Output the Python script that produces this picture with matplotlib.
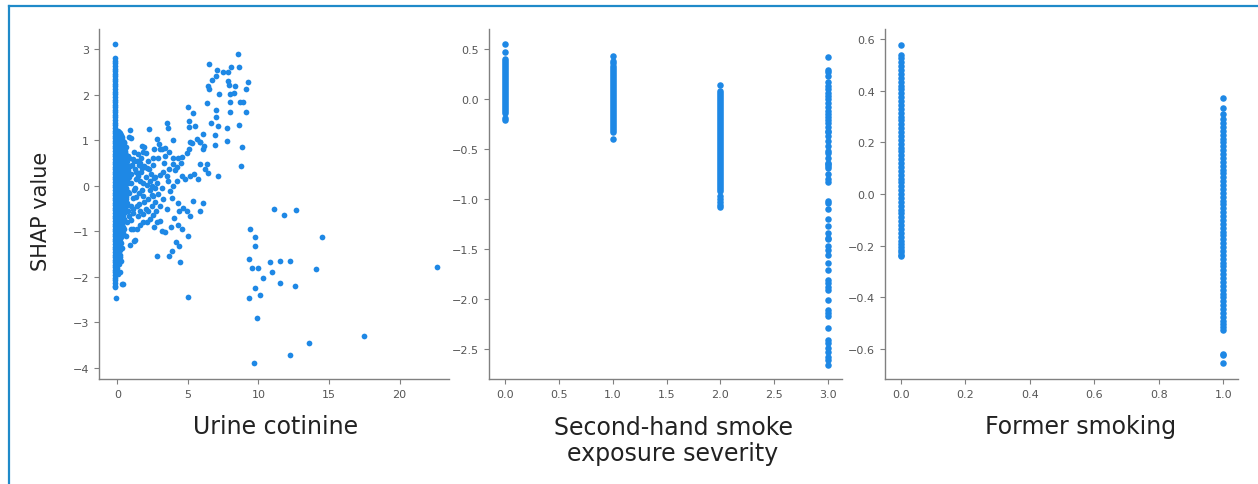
import matplotlib
matplotlib.use("Agg")
import matplotlib.pyplot as plt
from matplotlib.lines import Line2D

# ---------------- data ----------------
# Panel 1: Urine cotinine (column of near-zero values)
cot_col_x = -0.2
cot_col_y = [3.10, 2.80, 2.74, 2.69, 2.63, 2.57, 2.52, 2.46, 2.40, 2.35, 2.29, 2.23, 2.18,
             2.12, 2.06, 2.01, 1.95, 1.89, 1.84, 1.78, 1.72, 1.67, 1.61, 1.55, 1.50, 1.44,
             1.38, 1.33, 1.27, 1.21, 1.16, 1.10, 1.04, 0.99, 0.93, 0.87, 0.82, 0.76, 0.70,
             0.65, 0.59, 0.53, 0.48, 0.42, 0.36, 0.31, 0.25, 0.19, 0.14, 0.08, 0.02, -0.03,
             -0.09, -0.15, -0.20, -0.26, -0.32, -0.37, -0.43, -0.49, -0.54, -0.60, -0.66,
             -0.71, -0.77, -0.83, -0.88, -0.94, -1.00, -1.05, -1.11, -1.17, -1.22, -1.28,
             -1.34, -1.39, -1.45, -1.51, -1.56, -1.62, -1.68, -1.73, -1.79, -1.85, -1.90,
             -1.96, -2.02, -2.07, -2.13, -2.19, -2.22]

# points spreading just right of the column
cot_near_x = [0.02, 0.15, 0.05, 0.27, 0.0, 0.21, 0.36, 0.1, 0.31, 0.46, 0.02, 0.19, 0.41,
              0.12, 0.29, 0.56, 0.0, 0.22, 0.44, 0.09, 0.35, 0.61, 0.01, 0.26, 0.52, 0.14,
              0.39, 0.66, 0.0, 0.31, 0.55, 0.11, 0.34, 0.68, 0.03, 0.24, 0.49, 0.16, 0.42,
              0.63, 0.0, 0.29, 0.54, 0.1, 0.36, 0.58, 0.02, 0.27, 0.5, 0.14, 0.41, 0.0,
              0.31, 0.56, 0.09, 0.36, 0.01, 0.24, 0.48, 0.15, 0.39, 0.0, 0.3, 0.1, 0.26,
              0.02, 0.21, 0.09, 0.3, 0.0, 0.16, 0.06, 0.24, 0.0, 0.05, 0.19, 0.38,
              0.08, 0.22, 0.12, 0.33, 0.07, 0.26, 0.44, 0.16, 0.37, 0.50, 0.06, 0.30, 0.52,
              0.18, 0.40, 0.62, 0.08, 0.32, 0.56, 0.20, 0.45, 0.66, 0.07, 0.35, 0.60, 0.22,
              0.48, 0.70, 0.08, 0.42, 0.62, 0.20, 0.50, 0.75, 0.10, 0.36, 0.60, 0.24, 0.50,
              0.72, 0.08, 0.40, 0.64, 0.22, 0.48, 0.12, 0.36, 0.60, 0.26, 0.50, 0.10, 0.42,
              0.20, 0.48, 0.08, 0.36, 0.24, 0.46, 0.12, 0.38, 0.05, 0.18, 0.10, 0.28, 0.08,
              0.22, 0.10, 0.20, 0.04, 0.12]
cot_near_y = [1.21, 1.18, 1.09, 1.12, 1.01, 0.98, 1.03, 0.91, 0.88, 0.93, 0.81, 0.79, 0.83,
              0.71, 0.69, 0.72, 0.61, 0.58, 0.63, 0.51, 0.49, 0.52, 0.41, 0.39, 0.43, 0.31,
              0.29, 0.33, 0.21, 0.19, 0.23, 0.11, 0.09, 0.12, 0.01, -0.01, 0.02, -0.09,
              -0.11, -0.08, -0.19, -0.21, -0.18, -0.29, -0.31, -0.28, -0.39, -0.41, -0.38,
              -0.49, -0.51, -0.59, -0.61, -0.58, -0.69, -0.71, -0.79, -0.81, -0.78, -0.89,
              -0.91, -0.99, -1.01, -1.09, -1.12, -1.19, -1.21, -1.34, -1.36, -1.49, -1.52,
              -1.64, -1.66, -1.81, -1.94, -1.90, -2.16,
              1.16, 1.16, 1.06, 1.06, 0.96, 0.96, 0.96, 0.86, 0.86, 0.86, 0.76, 0.76, 0.76,
              0.66, 0.66, 0.66, 0.56, 0.56, 0.56, 0.46, 0.46, 0.46, 0.36, 0.36, 0.36, 0.26,
              0.26, 0.26, 0.16, 0.16, 0.16, 0.06, 0.06, 0.06, -0.04, -0.04, -0.04, -0.14,
              -0.14, -0.14, -0.24, -0.24, -0.24, -0.34, -0.34, -0.44, -0.44, -0.44, -0.54,
              -0.54, -0.64, -0.64, -0.74, -0.74, -0.84, -0.84, -0.94, -0.94, -1.04, -1.04,
              -1.14, -1.14, -1.26, -1.26, -1.42, -1.42, -1.57, -1.57, -1.72, -1.72]

# scattered cloud
cot_x = [0.90, 2.27, 3.55, 3.62, 0.99, 0.85, 0.43, 0.61, 1.73, 1.91, 2.79, 2.98, 3.14,
         3.38, 3.69, 3.97, 4.28, 4.56, 4.92, 5.11, 5.27, 5.63, 5.86, 6.10, 6.34, 4.26,
         3.92, 3.69, 3.50, 3.03, 2.60, 2.27, 1.91, 1.61, 1.37, 1.09, 0.73, 0.57, 0.90,
         1.25, 1.49, 1.84, 2.08, 2.43, 2.79, 3.14, 3.74, 3.97, 4.26, 4.56, 4.80, 5.15,
         5.44, 5.74, 6.22, 5.86, 0.66, 0.95, 1.25, 1.56, 1.84, 2.20, 2.55, 2.91, 3.26,
         3.85, 4.33, 4.68, 4.40, 4.92, 5.15, 5.86, 6.05, 5.34, 1.09, 1.37, 1.61, 2.03,
         2.43, 2.74, 3.03, 3.14, 3.38, 2.79, 2.32, 2.08, 1.84, 1.49, 1.13, 0.66, 0.85,
         1.13, 1.25, 1.20, 2.79, 3.69, 3.85, 4.16, 4.40, 4.99, 4.44, 5.04, 0.35, -0.08,
         0.75, 1.00, 1.30, 1.15, 1.45, 1.70, 2.00, 2.20, 2.50, 2.60, 2.90, 3.30, 2.40,
         2.00, 1.70, 1.20, 0.80, 2.30, 2.70, 3.50, 3.60, 4.10, 4.50, 1.90, 0.95, 0.70,
         1.00, 1.60, 2.50, 3.00, 4.00, 4.30, 4.55, 3.80, 0.60, 0.90,
         0.65, 0.80, 0.70, 0.85, 1.05, 1.20, 1.35, 1.50, 1.60, 1.75, 1.85, 2.10, 2.30,
         2.55, 2.70, 1.10, 1.35, 1.55, 1.75, 2.15, 2.45, 2.65, 0.75, 0.95, 1.40, 1.80,
         2.60, 3.20, 3.40, 3.00,
         # upper right group
         8.58, 6.52, 7.09, 7.47, 8.04, 8.65, 7.87, 6.71, 6.97, 9.29, 6.50, 6.43, 7.87,
         7.94, 8.35, 9.09, 7.17, 7.99, 8.30, 8.71, 8.87, 6.34, 7.99, 9.12, 5.04, 5.39,
         5.11, 7.99, 7.00, 6.97, 6.64, 7.14, 8.63, 7.78, 5.06, 5.53, 6.95, 6.05, 7.75,
         6.95, 8.81, 8.74, 7.12, 3.92, 5.15, 5.86, 6.14, 6.39,
         # lower right group
         11.11, 11.80, 12.65, 9.42, 9.72, 9.72, 14.47, 9.34, 9.51, 9.98, 10.81, 11.49,
         12.25, 10.95, 10.33, 14.09, 22.65, 9.72, 11.49, 12.56, 9.36, 10.12, 9.88,
         17.45, 13.55, 12.25, 9.65]
cot_y = [1.23, 1.24, 1.37, 1.26, 1.04, 1.08, 0.91, 0.84, 0.88, 0.86, 1.02, 0.91, 0.80,
         0.83, 0.75, 0.62, 0.62, 0.64, 0.73, 0.80, 0.93, 1.02, 0.95, 0.80, 0.48, 0.42,
         0.48, 0.37, 0.22, 0.23, 0.18, 0.37, 0.44, 0.50, 0.55, 0.58, 0.66, 0.72, 0.44,
         0.37, 0.22, 0.07, 0.01, 0.00, 0.06, -0.04, -0.11, 0.00, 0.11, 0.22, 0.15, 0.22,
         0.26, 0.15, 0.37, 0.48, 0.18, 0.07, -0.04, -0.15, -0.22, -0.29, -0.22, -0.18,
         -0.29, -0.26, -0.37, -0.48, -0.55, -0.55, -0.66, -0.55, -0.38, -0.33, -0.26,
         -0.44, -0.55, -0.51, -0.44, -0.55, -0.77, -0.99, -1.02, -0.80, -0.72, -0.80,
         -0.62, -0.66, -0.51, -0.37, -0.66, -0.95, -1.18, -1.22, -1.54, -1.54, -1.43,
         -1.24, -1.33, -1.11, -1.68, -2.45, -2.16, -2.47,
         0.35, 0.25, 0.15, 0.75, 0.70, 0.60, 0.72, 0.55, 0.45, 0.80, 0.60, 0.50, 0.25,
         0.20, 0.30, -0.10, -0.15, -0.10, -0.35, -0.50, 0.10, 0.35, 0.50, -0.35, -0.45,
         -0.80, -0.75, -0.85, -0.65, -0.45, -0.70, -0.85, -0.95, -0.90, -1.10, -1.30,
         0.55, 0.62, 0.10, 0.20, 0.45, 0.55, 0.30, 0.45, 0.10, 0.40, 0.75, 0.40, 0.10,
         0.60, 0.20, -0.60, -0.25, -0.40, -0.10, -0.55, -0.20, -0.05, -0.55, -0.95,
         -0.95, -0.80, -0.90, 0.30, 0.65, 0.80,
         # upper right group
         2.89, 2.67, 2.54, 2.49, 2.60, 2.60, 2.50, 2.32, 2.40, 2.27, 2.13, 2.18, 2.30,
         2.21, 2.18, 2.12, 2.01, 2.01, 2.03, 1.83, 1.83, 1.81, 1.83, 1.61, 1.73, 1.59,
         1.43, 1.61, 1.66, 1.50, 1.37, 1.32, 1.33, 1.26, 1.29, 1.32, 1.11, 1.13, 0.99,
         0.90, 0.86, 0.44, 0.22, 1.01, 0.95, 0.95, 0.88, 0.29,
         # lower right group
         -0.50, -0.64, -0.53, -0.95, -1.12, -1.33, -1.12, -1.61, -1.80, -1.80, -1.68,
         -1.66, -1.65, -1.89, -2.03, -1.82, -1.78, -2.24, -2.13, -2.20, -2.46, -2.39,
         -2.90, -3.29, -3.44, -3.71, -3.89]

# Panel 2: Second-hand smoke exposure severity (levels 0..3)
shs_levels = [0.0, 1.0, 2.0, 3.0]
shs_0 = [0.55, 0.47, 0.40, 0.38, 0.36, 0.34, 0.32, 0.30, 0.28, 0.26, 0.24, 0.22, 0.20,
         0.18, 0.16, 0.14, 0.12, 0.10, 0.08, 0.06, 0.04, 0.02, 0.00, -0.02, -0.04, -0.06,
         -0.08, -0.10, -0.12, -0.14, -0.19, -0.21]
shs_1 = [0.43, 0.38, 0.36, 0.33, 0.31, 0.29, 0.27, 0.25, 0.23, 0.21, 0.19, 0.17, 0.15,
         0.13, 0.11, 0.09, 0.07, 0.05, 0.03, 0.01, -0.01, -0.03, -0.05, -0.07, -0.09,
         -0.11, -0.13, -0.15, -0.17, -0.19, -0.21, -0.23, -0.25, -0.27, -0.29, -0.31,
         -0.33, -0.40]
shs_2 = [0.14, 0.08, 0.06, 0.04, 0.02, 0.00, -0.02, -0.04, -0.06, -0.08, -0.10, -0.12,
         -0.14, -0.16, -0.18, -0.20, -0.22, -0.24, -0.26, -0.28, -0.30, -0.32, -0.34,
         -0.36, -0.38, -0.40, -0.42, -0.44, -0.46, -0.48, -0.50, -0.52, -0.54, -0.56,
         -0.58, -0.60, -0.62, -0.64, -0.66, -0.68, -0.70, -0.72, -0.74, -0.76, -0.78,
         -0.80, -0.82, -0.84, -0.86, -0.88, -0.90, -0.92, -0.97, -1.00, -1.03, -1.06,
         -1.08]
shs_3 = [0.42, 0.29, 0.27, 0.23, 0.17, 0.13, 0.10, 0.06, 0.03, 0.00, -0.04, -0.08, -0.12,
         -0.15, -0.18, -0.21, -0.24, -0.28, -0.32, -0.33, -0.37, -0.42, -0.47, -0.52,
         -0.54, -0.59, -0.64, -0.65, -0.67, -0.69, -0.75, -0.80, -0.83, -1.02, -1.04,
         -1.10, -1.20, -1.27, -1.34, -1.39, -1.40, -1.47, -1.51, -1.56, -1.64, -1.71,
         -1.81, -1.84, -1.88, -1.91, -2.01, -2.11, -2.14, -2.17, -2.29, -2.41, -2.44,
         -2.49, -2.53, -2.58, -2.61, -2.66]

# Panel 3: Former smoking (0 / 1)
fs_levels = [0.0, 1.0]
fs_0 = [0.578, 0.54, 0.525, 0.51, 0.495, 0.48, 0.465, 0.45, 0.435, 0.42, 0.405, 0.39,
        0.375, 0.36, 0.345, 0.33, 0.315, 0.30, 0.285, 0.27, 0.255, 0.24, 0.225, 0.21,
        0.195, 0.18, 0.165, 0.15, 0.135, 0.12, 0.105, 0.09, 0.075, 0.06, 0.045, 0.03,
        0.015, 0.0, -0.015, -0.03, -0.045, -0.06, -0.075, -0.09, -0.105, -0.12, -0.135,
        -0.15, -0.165, -0.18, -0.195, -0.205, -0.215, -0.225, -0.235, -0.24]
fs_1 = [0.37, 0.335, 0.31, 0.29, 0.275, 0.26, 0.245, 0.23, 0.215, 0.20, 0.185, 0.17,
        0.155, 0.14, 0.125, 0.11, 0.095, 0.08, 0.065, 0.05, 0.035, 0.02, 0.005, -0.01,
        -0.025, -0.04, -0.055, -0.07, -0.085, -0.10, -0.115, -0.13, -0.145, -0.16,
        -0.175, -0.19, -0.205, -0.22, -0.235, -0.25, -0.265, -0.28, -0.295, -0.31,
        -0.325, -0.34, -0.355, -0.37, -0.385, -0.40, -0.415, -0.43, -0.445, -0.46,
        -0.475, -0.49, -0.505, -0.515, -0.525, -0.62, -0.625, -0.655]

xlabels = ["Urine cotinine", "Second-hand smoke\nexposure severity", "Former smoking"]
ylabel = "SHAP value"

# ---------------- styling ----------------
DOT = "#1E88E5"
SPINE = "#808080"
TICKC = "#555555"
W, H = 1258, 485
fig = plt.figure(figsize=(W / 100, H / 100), dpi=100)
fig.patch.set_facecolor("white")


def make_ax(left_px, right_px):
    return fig.add_axes([left_px / W, 1 - 380 / H, (right_px - left_px) / W, 350 / H])


def style(ax):
    for s in ["top", "right"]:
        ax.spines[s].set_visible(False)
    for s in ["left", "bottom"]:
        ax.spines[s].set_color(SPINE)
        ax.spines[s].set_linewidth(1.0)
    ax.tick_params(colors=SPINE, labelcolor=TICKC, labelsize=8, length=3.5, width=0.8)


S = 17
ax1 = make_ax(99, 449)
ax1.scatter([cot_col_x] * len(cot_col_y), cot_col_y, s=S, color=DOT, linewidths=0)
ax1.scatter(cot_near_x, cot_near_y, s=S, color=DOT, linewidths=0)
ax1.scatter(cot_x, cot_y, s=S, color=DOT, linewidths=0)
ax1.set_xlim(-1.3, 23.5)
ax1.set_ylim(-4.24, 3.44)
ax1.set_xticks([0, 5, 10, 15, 20])
ax1.set_yticks([-4, -3, -2, -1, 0, 1, 2, 3])
style(ax1)

S2 = 22
ax2 = make_ax(489, 842)
for lvl, vals in zip(shs_levels, [shs_0, shs_1, shs_2, shs_3]):
    ax2.scatter([lvl] * len(vals), vals, s=S2, color=DOT, linewidths=0)
ax2.set_xlim(-0.153, 3.13)
ax2.set_ylim(-2.8, 0.7)
ax2.set_xticks([0.0, 0.5, 1.0, 1.5, 2.0, 2.5, 3.0])
ax2.set_yticks([-2.5, -2.0, -1.5, -1.0, -0.5, 0.0, 0.5])
style(ax2)

ax3 = make_ax(885, 1238)
for lvl, vals in zip(fs_levels, [fs_0, fs_1]):
    ax3.scatter([lvl] * len(vals), vals, s=S2, color=DOT, linewidths=0)
ax3.set_xlim(-0.049, 1.046)
ax3.set_ylim(-0.716, 0.639)
ax3.set_xticks([0.0, 0.2, 0.4, 0.6, 0.8, 1.0])
ax3.set_yticks([-0.6, -0.4, -0.2, 0.0, 0.2, 0.4, 0.6])
style(ax3)

TXT = "#222222"
fig.text(41 / W, 1 - 211 / H, ylabel, rotation=90, ha="center", va="center",
         fontsize=15, color=TXT)
fig.text(276 / W, 1 - 427 / H, xlabels[0], ha="center", va="center", fontsize=17, color=TXT)
fig.text(673 / W, 1 - 441 / H, xlabels[1], ha="center", va="center", fontsize=17,
         color=TXT, multialignment="center", linespacing=1.12)
fig.text(1081 / W, 1 - 427 / H, xlabels[2], ha="center", va="center", fontsize=17, color=TXT)

# blue frame
BLUE = "#1f8ac9"
fig.add_artist(Line2D([9 / W, 1], [1 - 7 / H, 1 - 7 / H], transform=fig.transFigure,
                      color=BLUE, linewidth=1.6))
fig.add_artist(Line2D([9 / W, 9 / W], [0, 1 - 7 / H], transform=fig.transFigure,
                      color=BLUE, linewidth=1.6))

fig.savefig("out.png", dpi=100, facecolor="white")
